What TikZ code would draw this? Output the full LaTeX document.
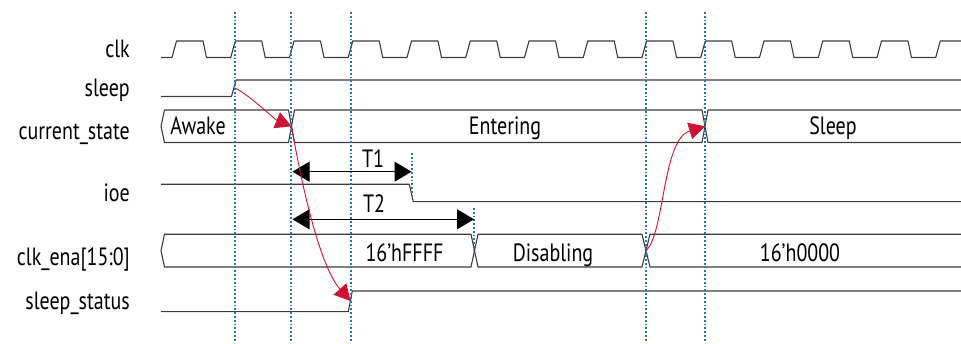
\documentclass[tikz,border=0pt]{standalone}
\usepackage{fontspec}
\setmainfont[FakeStretch=0.8]{PT Sans}
\usetikzlibrary{arrows.meta}
\definecolor{wavegray}{RGB}{60,60,60}
\definecolor{guideblue}{RGB}{30,120,180}
\definecolor{causered}{RGB}{205,20,50}

\begin{document}
\begin{tikzpicture}[x=1pt,y=-1pt,>=Latex,
  wave/.style={draw=wavegray,line width=1.1pt,line join=round},
  guide/.style={draw=guideblue,line width=1.8pt,dotted},
  cause/.style={draw=causered,line width=0.9pt,-{Triangle[length=16pt,width=17pt]}},
  span/.style={draw=black,line width=1pt,{Triangle[length=17pt,width=20pt]}-{Triangle[length=17pt,width=20pt]}},
  sig/.style={anchor=base east,inner sep=0pt,font=\fontsize{25}{25}\selectfont},
  val/.style={anchor=base,inner sep=0pt,font=\fontsize{25}{25}\selectfont}]
\useasboundingbox (0,0) rectangle (961,344);

% signal names
\node[sig] (lclk) at (130,57.5) {clk};
\node[sig] (lsleep) at (130,96.5) {sleep};
\node[sig] (lstate) at (130,140) {current\_state};
\node[sig] (lioe) at (130,202) {ioe};
\node[sig] (lena) at (130,266) {clk\_ena[15:0]};
\node[sig] (lstatus) at (130,310) {sleep\_status};

% waveforms
\draw[wave] (161,57.5) \foreach \k in {0,...,12} {
  -- ({172+58.75*\k},57.5) -- ({176.5+58.75*\k},41) -- ({203+58.75*\k},41) -- ({206.5+58.75*\k},57.5) }
  -- (935.75,57.5) -- (940.25,41) -- (961,41);
\draw[wave] (161,96.5) -- (231.5,96.5) -- (236,80) -- (961,80);
\draw[wave] (161,126.3) -- (164.5,110) -- (288.5,110) -- (294.5,142.5) -- (702,142.5) -- (708,110) -- (961,110);
\draw[wave] (161,126.3) -- (164.5,142.5) -- (288.5,142.5) -- (294.5,110) -- (702,110) -- (708,142.5) -- (961,142.5);
\draw[wave] (161,184.3) -- (409.3,184.3) -- (413.3,201.7) -- (961,201.7);
\draw[wave] (161,250.7) -- (164.5,234.3) -- (471,234.3) -- (478,267) -- (642,267) -- (650,234.3) -- (961,234.3);
\draw[wave] (161,250.7) -- (164.5,267) -- (471,267) -- (478,234.3) -- (642,234.3) -- (650,267) -- (961,267);
\draw[wave] (161,311.7) -- (348.3,311.7) -- (352.3,291) -- (961,291);

% bus values
\node[val] (vawake) at (198,135) {Awake};
\node[val] (venter) at (505,135) {Entering};
\node[val] (vsleep) at (833,135) {Sleep};
\node[val] (vffff) at (404.5,261.5) {16’hFFFF};
\node[val] (vdis) at (553,261.5) {Disabling};
\node[val] (vzero) at (800,261.5) {16’h0000};

% clock edge guides
\foreach \gx in {235,291,351,646,705}
  \draw[guide] (\gx,12) -- (\gx,342);
\draw[guide] (412,153) -- (412,195);
\draw[guide] (474,208) -- (474,250.7);

% event points
\coordinate (sleeprise) at (236,88.5);
\coordinate (statex1) at (291.5,126.3);
\coordinate (statex2) at (705,126.3);
\coordinate (enax2) at (646,250.7);
\coordinate (statusrise) at (350.5,301);
\coordinate (t1from) at (292.5,171.7);
\coordinate (t1to) at (411.5,171.7);
\coordinate (t2from) at (292.5,219.3);
\coordinate (t2to) at (474,219.3);

% delays
\draw[span] (t1from) -- (t1to);
\node[val] (tone) at (373,168) {T1};
\draw[span] (t2from) -- (t2to);
\node[val] (ttwo) at (374,213) {T2};

% cause and effect
\draw[cause] (sleeprise) .. controls +(15,8) and +(-17,-7) .. (statex1);
\draw[cause] (statex1) .. controls +(10,58) and +(-31,-35) .. (statusrise);
\draw[cause] (enax2) .. controls +(19,-18) and +(-43,13) .. (statex2);
\end{tikzpicture}
\end{document}
